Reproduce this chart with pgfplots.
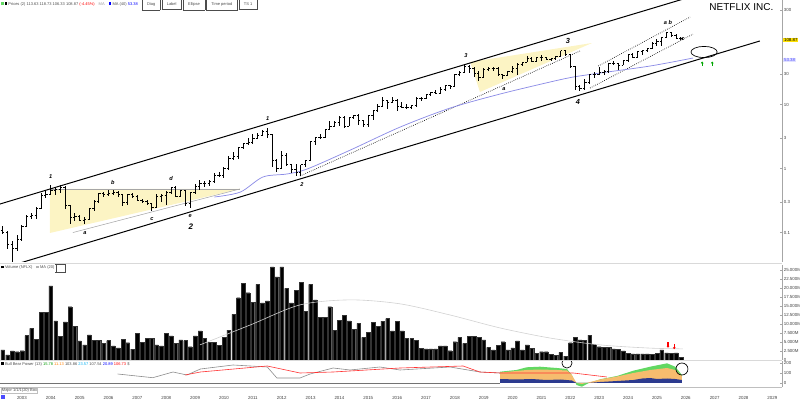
\documentclass[border=0pt]{standalone}
\usepackage{pgfplots}
\pgfplotsset{compat=1.18}
\usepackage{pgfplotstable}
\usepackage{fontspec}
\setmainfont{Liberation Sans}
\usetikzlibrary{arrows.meta}

\definecolor{tri}{HTML}{FCF4C4}
\definecolor{maline}{HTML}{8C8CE6}
\definecolor{ogreen}{HTML}{62D862}
\definecolor{oorange}{HTML}{F6BC6E}
\definecolor{oblue}{HTML}{2C3A8E}
\newcommand{\ft}{\fontsize{3.3}{3.8}\selectfont}
\newcommand{\lb}{\fontsize{4.2}{5}\selectfont\bfseries\itshape}

\pgfdeclareplotmark{otick}{\pgfpathmoveto{\pgfqpoint{-1.3pt}{0pt}}\pgfpathlineto{\pgfqpoint{0pt}{0pt}}\pgfusepathqstroke}
\pgfdeclareplotmark{ctick}{\pgfpathmoveto{\pgfqpoint{0pt}{0pt}}\pgfpathlineto{\pgfqpoint{1.3pt}{0pt}}\pgfusepathqstroke}

\pgfplotsset{panel/.style={scale only axis, width=586.5pt, xmin=-0.56, xmax=162.0,
  axis y line*=right, y axis line style={black!35, line width=0.4pt},
  ytick style={black!35}, major tick length=1.2pt,
  yticklabel style={font=\ft, anchor=west, xshift=0.8pt, inner sep=0.4pt, text=black!75},
  /pgf/number format/assume math mode=true}}

\pgfplotstableread{
i o h l c
0 0.107 0.125 0.095 0.099
1 0.099 0.105 0.055 0.065
2 0.065 0.075 0.0346 0.056
3 0.056 0.090 0.052 0.079
4 0.079 0.130 0.075 0.125
5 0.125 0.190 0.120 0.175
6 0.175 0.200 0.160 0.183
7 0.183 0.250 0.165 0.240
8 0.240 0.410 0.230 0.380
9 0.380 0.450 0.350 0.390
10 0.390 0.560 0.380 0.450
11 0.450 0.500 0.380 0.470
12 0.470 0.550 0.420 0.510
13 0.510 0.530 0.230 0.260
14 0.260 0.270 0.135 0.170
15 0.170 0.200 0.150 0.176
16 0.176 0.185 0.150 0.155
17 0.155 0.175 0.135 0.160
18 0.160 0.240 0.155 0.235
19 0.235 0.320 0.220 0.300
20 0.300 0.410 0.290 0.400
21 0.400 0.430 0.360 0.387
22 0.387 0.460 0.370 0.410
23 0.410 0.470 0.380 0.420
24 0.420 0.450 0.360 0.390
25 0.390 0.395 0.260 0.290
26 0.290 0.400 0.270 0.390
27 0.390 0.420 0.350 0.369
28 0.369 0.380 0.310 0.320
29 0.320 0.340 0.290 0.310
30 0.310 0.320 0.270 0.280
31 0.280 0.290 0.220 0.250
32 0.250 0.400 0.250 0.370
33 0.370 0.400 0.300 0.380
34 0.380 0.440 0.270 0.420
35 0.420 0.520 0.400 0.510
36 0.510 0.540 0.370 0.372
37 0.372 0.470 0.360 0.450
38 0.450 0.470 0.260 0.280
39 0.280 0.430 0.240 0.427
40 0.427 0.570 0.400 0.520
41 0.520 0.660 0.470 0.590
42 0.590 0.630 0.510 0.590
43 0.590 0.660 0.540 0.620
44 0.620 0.860 0.590 0.790
45 0.790 0.890 0.740 0.790
46 0.790 1.040 0.710 0.990
47 0.990 1.570 0.950 1.450
48 1.450 1.790 1.360 1.560
49 1.560 2.200 1.430 2.100
50 2.100 2.500 2.000 2.470
51 2.470 2.990 2.300 2.510
52 2.510 3.450 2.400 2.950
53 2.950 3.570 2.860 3.300
54 3.300 3.950 3.200 3.750
55 3.750 4.350 3.000 3.360
56 3.360 3.500 1.070 1.340
57 1.340 1.430 0.890 0.990
58 0.990 1.900 0.970 1.570
59 1.570 1.720 1.110 1.140
60 1.140 1.170 0.860 0.980
61 0.980 1.170 0.760 0.870
62 0.870 1.140 0.754 1.140
63 1.140 1.360 1.070 1.320
64 1.320 2.710 1.290 2.680
65 2.680 3.140 2.300 3.090
66 3.090 3.500 2.860 3.020
67 3.020 4.140 3.000 4.070
68 4.070 5.560 4.000 4.600
69 4.600 5.570 4.430 5.260
70 5.260 6.540 4.570 6.360
71 6.360 6.570 4.290 4.600
72 4.600 6.430 4.570 6.290
73 6.290 6.860 5.860 6.770
74 6.770 7.000 4.750 5.600
75 5.600 5.700 4.500 4.880
76 4.880 6.860 4.500 6.780
77 6.780 8.140 5.700 7.960
78 7.960 10.10 7.700 9.390
79 9.390 12.93 9.200 11.53
80 11.53 11.70 8.550 10.84
81 10.84 13.33 10.40 11.44
82 11.44 12.20 8.000 9.340
83 9.340 11.00 8.700 9.000
84 9.000 10.10 8.450 9.150
85 9.150 10.00 8.450 9.750
86 9.750 12.90 9.300 12.49
87 12.49 12.93 11.30 12.38
88 12.38 14.60 12.20 14.21
89 14.21 15.80 13.80 15.22
90 15.22 16.70 14.80 14.94
91 14.94 19.10 14.40 17.47
92 17.47 20.40 16.40 19.64
93 19.64 20.44 17.60 19.20
94 19.20 29.70 18.90 29.14
95 29.14 33.80 27.50 31.25
96 31.25 42.32 31.00 39.14
97 39.14 42.00 31.00 36.80
98 36.80 38.68 27.10 30.18
99 30.18 33.20 23.12 26.77
100 26.77 37.10 25.66 35.81
101 35.81 38.60 34.00 37.05
102 37.05 38.50 33.60 36.73
103 36.73 38.59 29.00 29.38
104 29.38 30.50 25.23 28.74
105 28.74 33.63 28.00 32.36
106 32.36 39.35 31.50 36.90
107 36.90 44.95 29.03 41.99
108 41.99 47.00 40.50 45.50
109 45.50 57.54 45.50 52.96
110 52.96 55.70 45.80 47.57
111 47.57 54.55 46.30 54.07
112 54.07 59.33 48.50 53.89
113 53.89 56.20 48.90 51.35
114 51.35 54.00 47.85 52.82
115 52.82 58.00 50.50 56.92
116 56.92 69.09 56.50 69.03
117 69.03 70.10 58.60 60.24
118 60.24 61.00 37.80 39.45
119 39.45 40.00 16.60 19.04
120 19.04 20.00 16.27 17.49
121 17.49 25.00 17.00 22.36
122 22.36 30.00 21.10 29.19
123 29.19 32.50 26.00 29.49
124 29.49 38.00 28.50 32.21
125 32.21 35.00 28.70 33.00
126 33.00 44.50 31.50 44.05
127 44.05 48.50 41.00 43.37
128 43.37 44.50 34.47 41.17
129 41.17 50.00 41.00 48.69
130 48.69 61.00 47.00 60.29
131 60.29 64.00 54.00 55.06
132 55.06 69.00 54.00 67.49
133 67.49 70.50 60.00 70.14
134 70.14 77.00 66.00 75.60
135 75.60 94.18 75.00 89.13
136 89.13 106.45 82.00 98.06
137 98.06 114.00 82.00 113.17
138 113.17 134.10 110.00 133.91
139 133.91 134.10 115.00 120.82
140 120.82 126.00 108.00 108.90
141 108.90 115.00 103.00 108.87
}\ohlc

\pgfplotstableread{
i v
0 2.8
1 1.4
2 2.5
3 2.3
4 2.6
5 6.8
6 8.8
7 5.8
8 13.3
9 13.3
10 20.6
11 10.9
12 6.5
13 10.6
14 14.8
15 9.3
16 5.3
17 4.2
18 7.0
19 5.4
20 5.4
21 4.6
22 5.4
23 3.9
24 3.4
25 5.8
26 4.8
27 3.0
28 7.4
29 4.9
30 6.0
31 6.0
32 4.2
33 3.9
34 7.4
35 6.7
36 4.6
37 5.6
38 5.4
39 3.7
40 6.7
41 8.1
42 6.0
43 4.9
44 4.9
45 4.0
46 6.3
47 8.3
48 12.7
49 17.3
50 21.3
51 18.7
52 16.0
53 21.0
54 15.9
55 16.4
56 25.9
57 23.1
58 25.9
59 19.9
60 15.9
61 19.4
62 21.5
63 13.6
64 21.0
65 16.7
66 11.8
67 11.8
68 14.8
69 8.3
70 11.1
71 12.5
72 10.9
73 8.5
74 10.2
75 6.3
76 7.7
77 10.4
78 9.3
79 10.8
80 11.5
81 8.1
82 10.8
83 8.1
84 6.0
85 6.0
86 5.4
87 3.2
88 3.1
89 3.1
90 3.1
91 3.9
92 3.9
93 2.6
94 5.1
95 6.3
96 4.6
97 6.5
98 6.5
99 6.3
100 5.6
101 3.5
102 2.8
103 4.0
104 5.1
105 2.8
106 3.4
107 5.3
108 2.8
109 4.2
110 3.2
111 1.9
112 2.3
113 2.3
114 1.6
115 1.3
116 2.1
117 1.1
118 4.8
119 6.3
120 5.6
121 5.4
122 6.9
123 4.4
124 3.7
125 3.5
126 3.5
127 3.1
128 3.0
129 2.5
130 1.9
131 1.7
132 1.7
133 1.7
134 1.7
135 1.5
136 1.9
137 2.8
138 2.0
139 1.9
140 2.0
141 0.75
}\vol

\begin{document}
\begin{tikzpicture}
\useasboundingbox (0pt,0pt) rectangle (600pt,-301.5pt);

% ---------------- price panel ----------------
\begin{axis}[panel, axis x line=none, at={(0pt,-196.5pt)}, anchor=south west, height=196.5pt,
  ymode=log, ymin=0.03464, ymax=429.9,
  ytick={0.1,0.3,1,3,10,30,300}, yticklabels={0.1,0.3,1,3,10,30,300}]
% shaded triangles
\addplot[fill=tri, draw=none] coordinates {(9.83,0.479) (49.3,0.479) (9.83,0.0984)};
\addplot[black!35, line width=0.4pt] coordinates {(9.83,0.479) (49.3,0.479)};
\addplot[black!35, line width=0.4pt] coordinates {(14.6,0.1) (49.3,0.479)};
\addplot[fill=tri, draw=none] coordinates {(97.2,46.2) (122.5,91.5) (99.2,15.7)};
% channel lines
\addplot[black, line width=0.75pt] coordinates {(-2,0.259) (165,1510)};
\addplot[black, line width=0.75pt] coordinates {(0,0.0277) (157.4,98.4)};
% dotted trendlines
\addplot[black, line width=0.5pt, densely dotted] coordinates {(61.8,0.765) (120,68.6)};
\addplot[black, line width=0.5pt, densely dotted] coordinates {(123.8,40.0) (142.9,233)};
\addplot[black, line width=0.5pt, densely dotted] coordinates {(122.1,18.1) (143.5,126)};
% moving average
\addplot[maline, line width=0.55pt, smooth] coordinates {(44,0.359) (49.4,0.429) (54.1,0.738) (59.1,0.822) (63.3,0.984) (72.3,1.95) (82.6,4.44) (93,8.8) (103.4,14.6) (113.8,22.5) (118.6,26.9) (124.2,31.1) (134.6,40.0) (143.5,53.3)};
% OHLC bars
\addplot[black, line width=0.75pt, only marks, mark=ctick,
  error bars/.cd, y dir=both, y explicit, error mark=none,
  error bar style={line width=0.75pt, black}]
  table[x=i, y=c, y error plus expr=\thisrow{h}-\thisrow{c}, y error minus expr=\thisrow{c}-\thisrow{l}] {\ohlc};
\addplot[black, line width=0.75pt, only marks, mark=otick] table[x=i, y=o] {\ohlc};
% annotations
\node[font=\lb] at (axis cs:10.0,0.738) {1};
\node[font=\lb] at (axis cs:17.1,0.0984) {a};
\node[font=\lb] at (axis cs:22.9,0.61) {b};
\node[font=\lb] at (axis cs:31.0,0.163) {c};
\node[font=\lb] at (axis cs:35.0,0.687) {d};
\node[font=\lb] at (axis cs:39.0,0.178) {e};
\node[font=\fontsize{6}{7}\selectfont\bfseries\itshape] at (axis cs:39.1,0.125) {2};
\node[font=\lb] at (axis cs:55.1,5.94) {1};
\node[font=\lb] at (axis cs:62.2,0.553) {2};
\node[font=\lb] at (axis cs:96.3,59.2) {3};
\node[font=\lb] at (axis cs:104.2,17.4) {a};
\node[font=\fontsize{5.5}{6}\selectfont\bfseries\itshape] at (axis cs:117.5,98.2) {3};
\node[font=\fontsize{5.5}{6}\selectfont\bfseries\itshape] at (axis cs:119.6,10.9) {4};
\node[font=\lb] at (axis cs:138.3,188) {a b};
\node[font=\lb] at (axis cs:141.4,105) {c};
\draw[black, line width=0.5pt] (axis cs:145.8,66.2) ellipse [x radius=9.8pt, y radius=4.2pt];
\draw[green!65!black, line width=0.7pt, -{Triangle[length=1.3pt,width=2pt]}] (axis cs:145.4,40) -- (axis cs:145.4,47);
\draw[green!65!black, line width=0.7pt, -{Triangle[length=1.3pt,width=2pt]}] (axis cs:147.5,40) -- (axis cs:147.5,47);
\end{axis}

% ---------------- volume panel ----------------
\begin{axis}[panel, axis x line=none, at={(0pt,-270pt)}, anchor=south west, height=71.25pt,
  ymin=0, ymax=26.39,
  ytick={0,2.5,5,7.5,10,12.5,15,17.5,20,22.5,25},
  yticklabels={0,2.500M,5.000M,7.500M,10.000M,12.500M,15.000M,17.500M,20.000M,22.500M,25.000M}]
\addplot[ybar, bar width=2.75pt, fill=black, draw=black!80, line width=0.2pt] table[x=i, y=v] {\vol};
\addplot[black!18, line width=0.45pt, smooth] coordinates {(41,4.2) (51.4,9.7) (61.8,15.3) (72.2,16.7) (82.6,15.6) (93,12.5) (103.4,8.9) (113.8,6.1) (124.2,4.2) (134.6,3.3) (141.4,3.1)};
\draw[red, line width=0.9pt, -{Triangle[length=1.3pt,width=2pt]}] (axis cs:138.3,4.9) -- (axis cs:138.3,3.4);
\draw[red, line width=0.9pt, -{Triangle[length=1.3pt,width=2pt]}] (axis cs:139.6,4.5) -- (axis cs:139.6,3.0);
\end{axis}

% ---------------- indicator panel ----------------
\begin{axis}[panel, axis x line*=bottom, at={(0pt,-290.25pt)}, anchor=south west, height=19.5pt,
  ymin=-4, ymax=22, x axis line style={black!25, line width=0.4pt},
  xmajorticks=true,
  xtick={4,10,...,160},
  xticklabels={2003,2004,2005,2006,2007,2008,2009,2010,2011,2012,2013,2014,2015,2016,2017,2018,2019,2020,2021,2022,2023,2024,2025,2026,2027,2028,2029},
  xticklabel style={font=\ft, inner sep=0.4pt, yshift=-6.2pt, text=black!75}, xtick style={draw=none},
  ytick={0,10,20}, yticklabels={0,100,200}]
\addplot[black!55, line width=0.5pt] coordinates {(-1,0) (103.4,0)};
\addplot[fill=ogreen, draw=none] coordinates {(103.4,11.3) (106.8,13) (108.9,15.7) (111.7,16.3) (115.2,15) (117.3,14) (118.3,8) (119.3,-2) (120.4,-3.7) (121.7,-0.3) (124.2,3.7) (127.7,7) (131.1,12.3) (134.6,16.3) (138.1,19.7) (139.8,16.3) (141.2,8) (141.2,0) (103.4,0)};
\addplot[fill=oorange, draw=none] coordinates {(103.4,10.5) (106.8,12) (108.9,13) (111.7,13.5) (115.2,13) (117.3,12.5) (118.3,8) (119.3,0) (120.4,-1) (121.7,0.5) (124.2,3.5) (127.7,6.5) (131.1,10) (134.6,13) (138.1,15) (139.8,13) (141.2,7) (141.2,0) (103.4,0)};
\addplot[fill=oblue, draw=none] coordinates {(103.4,4) (106.8,3.5) (110,4) (113,3) (116,3.5) (118.3,2.5) (119.3,0) (121.7,0) (124.2,1) (127.7,2) (131.1,3) (133,4.5) (134.6,5) (136,4) (138.1,4.5) (139.8,4) (141.2,3) (141.2,0) (103.4,0)};
\addplot[black!45, line width=0.45pt] coordinates {(23.9,9) (31.2,5.3) (35.4,11) (38.3,8) (41.1,14) (47.9,18) (55,16) (57,5) (61.8,5) (63.9,9) (68.7,15) (72.2,13) (78.4,16) (82.6,13) (93,16) (99.2,11) (103.4,10)};
\addplot[red!80, line width=0.45pt] coordinates {(37.9,8) (41.1,11) (55,17) (61.8,10) (68.7,11) (82.6,15) (95.7,17) (99.2,11) (103.4,10) (118.6,10) (125.6,6)};
\draw[black, line width=0.5pt] (axis cs:117.3,20) circle [radius=3.8pt];
\draw[black, line width=0.5pt] (axis cs:141.2,14) circle [radius=4.5pt];
\end{axis}

% ---------------- free annotations (px coordinates) ----------------
\begin{scope}[x=0.75pt, y=-0.75pt]
\draw[black!15, line width=0.4pt] (0,263.5) -- (782,263.5);
\draw[black!15, line width=0.4pt] (0,360.5) -- (782,360.5);
\node[font=\fontsize{7.5}{8}\selectfont, anchor=east] at (778,7.5) {NETFLIX INC.};
\node[font=\ft, anchor=west, fill=yellow!85!orange, inner sep=0.6pt] at (783,40) {108.87};
\node[font=\ft, anchor=west, fill=blue!12, text=blue!70, inner sep=0.6pt] at (783,60) {53.38};
\node[font=\fontsize{3}{3.5}\selectfont, anchor=west, inner sep=0pt, text=black!70] at (1,4)
 {\textcolor{ogreen}{\rule{2pt}{2pt}}\,\textcolor{black}{\rule{2pt}{2pt}} Prices (2) 113.63 118.73 106.33 108.87 \textcolor{red}{(-4.45\%)}\quad \textcolor{black!40}{MA}\quad \textcolor{blue}{\rule{2pt}{2pt}} MA (40) \textcolor{blue}{53.38}\quad \fbox{\,Diag\,}\ \fbox{\,Label\,}\ \fbox{\,Ellipse\,}\ \fbox{\,Time period\,}\ \fbox{\,TS 1\,}};
\node[font=\fontsize{3}{3.5}\selectfont, anchor=west, inner sep=0pt, text=black!70] at (1,268.5)
 {\textcolor{black}{\rule{2pt}{2pt}} Volume (NFLX)\quad \textcolor{black!30}{\rule{2pt}{2pt}} MA (20)\ \fbox{\,\,}};
\node[font=\fontsize{3}{3.5}\selectfont, anchor=west, inner sep=0pt, text=black!70] at (1,364)
 {\textcolor{black}{\rule{2pt}{2pt}} Bull Bear Power (13)\ \textcolor{green!60!black}{15.78}\ \textcolor{orange}{11.13}\ 103.86\ \textcolor{cyan}{23.57}\ 107.54\ \textcolor{blue}{20.89}\ \textcolor{red}{106.73}\ \$};
\node[font=\fontsize{3}{3.5}\selectfont, anchor=west, inner sep=0.5pt, draw=black!25, text=black!70] at (1,390.5) {Major 1/1/1(20) Box};
\fill[blue!70] (0.5,395) rectangle (4.5,399);
\end{scope}
\end{tikzpicture}
\end{document}
